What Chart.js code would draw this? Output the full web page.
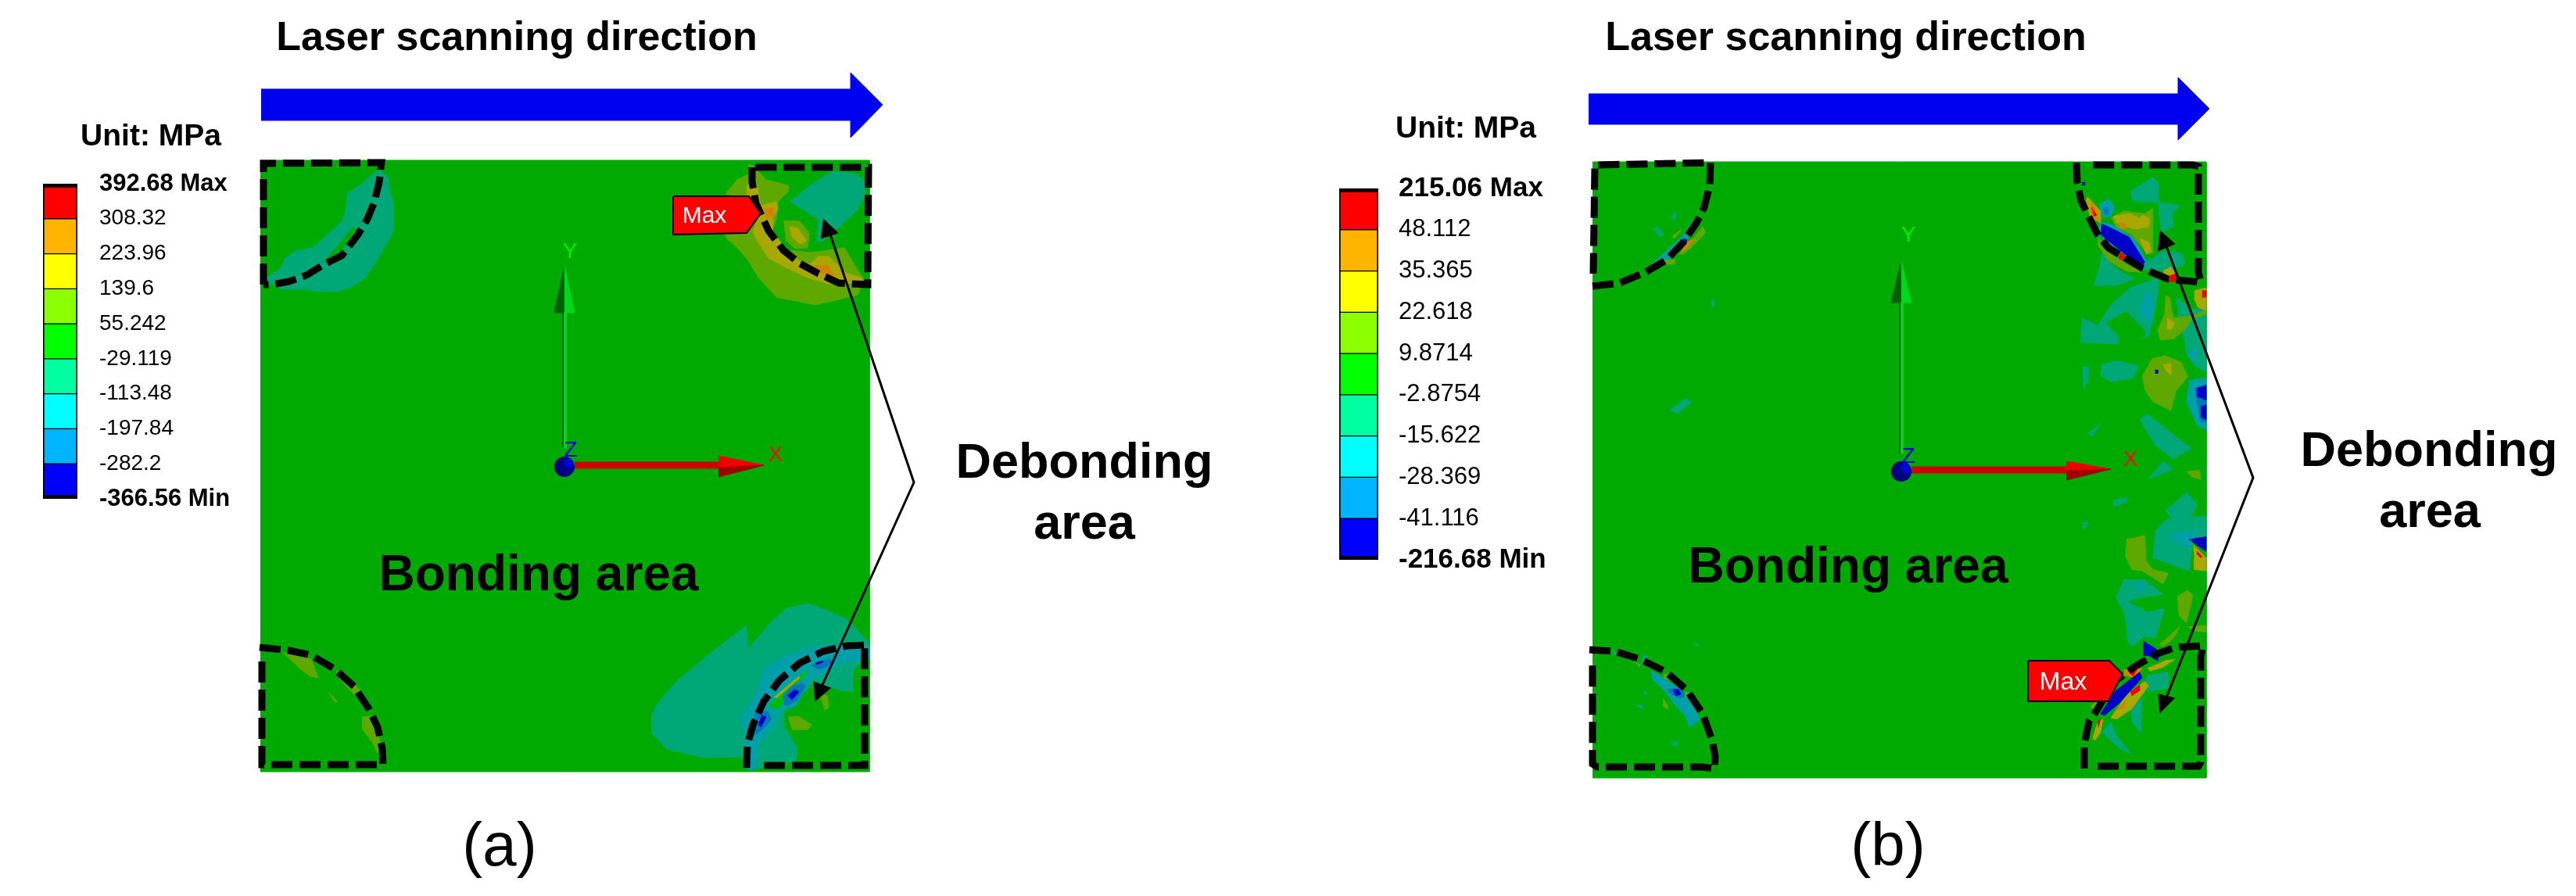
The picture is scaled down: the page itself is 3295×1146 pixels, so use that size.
<!DOCTYPE html>
<html>
<head>
<meta charset="utf-8">
<title>Debonding stress maps</title>
<script src="https://cdn.jsdelivr.net/npm/chart.js@4/dist/chart.umd.min.js"></script>
<style>
  html, body { margin: 0; padding: 0; background: #fff; }
  canvas { position: absolute; display: block; }
</style>
</head>
<body>
<canvas id="map" width="3295" height="1146" style="left:0;top:0"></canvas>
<canvas id="barA" width="249" height="443" style="left:50px;top:215px"></canvas>
<canvas id="barB" width="270" height="515" style="left:1708px;top:221px"></canvas>
<script>
// legend values, top to bottom
const labelsA = ['392.68 Max','308.32','223.96','139.6','55.242','-29.119','-113.48','-197.84','-282.2','-366.56 Min'];
const labelsB = ['215.06 Max','48.112','35.365','22.618','9.8714','-2.8754','-15.622','-28.369','-41.116','-216.68 Min'];
const bandColors = ['#ff0000','#ffb400','#ffff00','#8cff00','#00ff00','#00ffa0','#00ffff','#00b4ff','#0000ff'];

const plateA = [333,205, 1112,205, 1112,987, 333,987];
const plateB = [2037,207, 2822,207, 2822,995, 2037,995];
const scanArrowA = [334,114, 1088,114, 1088,93, 1129,134, 1088,176, 1088,154, 334,154];
const scanArrowB = [2032,120, 2786,120, 2786,99, 2826,139, 2786,179, 2786,159, 2032,159];

// contour zones panel (a)
const tealA = [
  [477,222,487,218,497,228,498,245,503,258,503,295,495,310,483,332,467,355,450,367,430,373,405,373,395,370,360,370,337,358,360,342,365,330,378,321,400,317,417,302,437,283,442,272,445,247,460,237],
  [1010,258,1037,237,1065,219,1093,222,1105,230,1107,247,1097,268,1077,287,1067,295,1050,310,1045,307,1047,280,1037,275],
  [833,915,843,897,867,870,913,832,955,800,957,830,987,795,1007,778,1033,772,1063,783,1083,792,1110,820,1112,835,1090,860,1090,885,1072,882,1042,872,1003,910,1002,928,1020,957,1018,973,960,985,948,968,900,969,853,958,833,937]
];
const slitA = [[417,332,452,290,458,295,435,322]];
const cyanA = [[947,920,967,887,980,853,1013,835,1040,827,1077,825,1112,828,1112,843,1077,848,1057,860,1040,867,1033,877,1017,903,997,910,987,933,970,953,967,983,957,985,952,950,953,937]];
const midBlueA = [
  [1037,852,1060,842,1067,847,1050,857],
  [1002,890,1013,878,1027,873,1030,878,1020,895,1008,903,1002,900],
  [967,910,982,910,987,920,975,933,965,940,958,937]
];
const navyA = [
  [1043,848,1052,845,1052,847,1045,850],
  [1007,890,1017,882,1022,885,1013,895],
  [970,927,975,915,980,917,973,930]
];
const brightA = [[983,902,1030,858,1032,862,1003,887,1000,903,990,907]];
const oliveA = [
  [958,210,967,215,980,230,1008,237,1008,245,995,258,993,280,987,297,1007,320,1037,323,1060,320,1080,317,1100,350,1105,357,1097,377,1073,383,1043,390,993,380,970,355,957,333,943,317,928,303,933,290,953,253,928,248,943,230,957,223],
  [1002,282,1023,283,1035,298,1033,317,1017,318,1005,307],
  [362,835,380,838,398,843,407,867,397,865,383,855],
  [420,885,432,898,427,897],
  [463,917,480,915,487,955,483,963,477,950,463,932],
  [430,858,438,860,460,882,462,890,453,888,433,867],
  [1048,887,1058,890,1060,905,1055,908],
  [1008,917,1022,917,1038,927,1033,933,1013,933]
];
const yellowA = [
  [955,237,968,235,973,263,993,258,995,268,988,278,988,295,1007,322,1027,337,1037,337,1047,328,1060,328,1083,350,1102,355,1103,362,1060,363,1033,355,1007,343,983,330,970,310,963,297,970,277,962,267,955,247],
  [1010,290,1020,292,1032,308,1023,312,1012,302],
  [990,892,1022,865,1023,867,993,893]
];
const orangeA = [
  [977,267,990,266,988,277,980,280],
  [1042,340,1058,339,1067,352,1050,350],
  [1012,325,1018,330,1013,332]
];

// contour zones panel (b), first the small ones near the left corners
const tealB = [
  [2137,277,2145,270,2142,282],
  [2115,293,2120,290,2128,302,2123,303],
  [2189,383,2192,383,2192,392,2189,392],
  [2102,838,2108,840,2105,852,2098,850],
  [2063,830,2070,838,2063,838],
  [2103,882,2108,888,2103,890],
  [2092,902,2102,902,2101,907],
  [2138,950,2145,948,2145,953,2138,953],
  [2167,823,2172,823,2170,827],
  [2135,525,2156,510,2164,514,2146,529]
];
const cyanB = [
  [2112,338,2125,327,2152,302,2165,282,2168,283,2158,305,2135,332,2132,333],
  [2112,858,2125,865,2142,877,2162,897,2175,920,2160,930,2157,917,2140,898,2128,882,2113,868]
];
const midBlueB = [[2132,882,2148,880,2158,890,2150,893,2138,888]];
const navyB = [
  [2153,305,2158,307,2157,310,2152,308],
  [2140,882,2147,882,2150,888,2143,890]
];
const oliveB = [
  [2128,333,2142,332,2142,338,2132,338],
  [2158,315,2178,290,2181,298,2168,312,2153,325,2147,325],
  [2138,303,2152,292,2142,305],
  [2128,862,2137,863,2133,869,2128,868],
  [2155,885,2165,888,2160,893,2155,892],
  [2090,846,2098,850,2097,853],
  [2127,893,2133,902,2133,907,2127,903]
];
const orangeB = [[2157,310,2167,305,2158,317,2150,323]];

const cropTop = [2540,190];
const cropLow = [2540,590];
const stripTealTop = [
  [555,165,640,110,660,130,660,205,600,205,560,195],
  [660,205,745,220,715,250,720,300,675,320,665,250],
  [445,400,480,440,520,475,570,500,500,525,415,525,430,480],
  [610,440,680,395,750,400,765,440,700,470,640,465,600,465],
  [630,505,660,500,660,560,640,660,625,720,510,750,365,745,370,650,430,680,480,600,560,530],
  [730,570,800,620,845,610,845,860,800,830,770,790,765,740,745,680],
  [370,835,395,840,395,880,375,930],
  [445,830,500,815,585,835,565,880,480,895,440,870],
  [590,1040,620,1020,760,1130,790,1150,720,1190,650,1140],
  [390,1095,440,1055,410,1105]
];
const stripHoleTop = [[460,670,540,625,610,700,610,720,560,740,510,750,510,720]];
const stripCyanTop = [
  [620,540,645,600,630,670,590,620],
  [780,790,805,760,805,830],
  [625,835,655,815,685,860,660,890],
  [780,890,845,880,845,1080,810,1060,770,970],
  [435,215,470,195,495,225,480,260,450,265],
  [440,285,480,290,570,345,615,430,600,460,430,330]
];
const stripBlueTop = [
  [640,840,660,835,670,865,650,870],
  [800,920,845,905,845,1050,825,1045,810,970],
  [450,230,470,225,470,255,455,250]
];
const stripNavyTop = [
  [650,850,660,850,660,862,650,862],
  [810,920,845,910,845,965,810,950],
  [825,990,845,985,845,1040,825,1030],
  [445,290,470,300,550,340,610,435,600,450,535,405,440,330],
  [370,130,380,130,380,140,370,140]
];
const stripOliveTop = [
  [690,565,705,570,720,650,790,655,765,695,720,730,670,735,660,695,685,640],
  [730,650,800,640,845,620,845,635,790,655],
  [600,875,640,805,690,795,750,820,775,875,730,930,710,1005,640,970,610,925],
  [480,265,530,240,610,250,640,230,640,360,640,400,620,405,560,330,500,300],
  [430,340,480,405,550,450,600,475,540,470,470,430,430,370]
];
const stripYellowTop = [
  [695,650,725,670,710,695,695,690],
  [800,545,845,535,845,620,815,610,800,575],
  [680,830,710,825,712,870,690,850],
  [490,260,555,250,590,270,600,255,630,270,625,300,570,310,500,285],
  [590,345,625,360,635,395,615,405],
  [390,185,440,240,440,285,400,260,385,195],
  [680,470,710,455,740,490,735,510,690,500]
];
const stripOrangeTop = [[510,285,540,285,535,305,515,305],[405,205,425,235,435,280,420,265,400,240]];
const stripRedTop = [
  [830,545,845,545,845,570,830,570],
  [405,225,425,255,415,260],
  [515,400,530,405,530,430,510,420],
  [705,490,730,480,730,510,705,510]
];

const stripTealLow = [
  [625,70,680,0,720,30],
  [490,150,545,140,540,155,490,175],
  [370,235,395,235,375,265],
  [690,190,770,120,810,165,790,210,720,230],
  [650,270,690,225,845,210,845,290,795,300,780,420,640,370],
  [500,525,530,455,610,455,680,510,580,525,545,540,620,580,685,565,650,680,610,670,560,710,545,690,535,590],
  [445,1040,480,1000,500,1050,555,1120,510,1100],
  [620,820,700,810,700,870,640,880,600,880],
  [555,950,600,905,595,1040,560,1000]
];
const stripCyanLow = [
  [695,285,775,270,830,260,780,300,785,340],
  [575,475,605,470,605,495,580,490]
];
const stripNavyLow = [
  [780,300,845,290,845,345,800,315],
  [605,690,660,725,660,765,625,745,605,745],
  [440,970,500,880,590,810,600,830,510,930,455,975]
];
const stripOliveLow = [
  [540,300,610,285,615,380,640,415,700,430,680,470,600,420,560,415,535,360],
  [735,520,775,495,795,515,770,620,740,590],
  [665,705,745,635,720,680,680,710],
  [775,635,845,630,845,655,800,650],
  [770,40,820,35,825,70,790,60],
  [400,940,430,920,420,960]
];
const stripYellowLow = [
  [795,320,845,370,845,420,800,415,800,370],
  [620,795,690,765,725,760,680,790,630,805],
  [480,985,545,890,610,845,625,860,560,950,500,990],
  [410,1065,430,1000,450,990,440,1040,420,1070]
];
const stripOrangeLow = [[500,960,535,920,530,945],[530,800,600,795,570,830,530,820]];
const stripRedLow = [
  [810,345,830,365,825,370,810,355],
  [555,885,590,860,590,880,560,900],
  [428,1000,440,990,432,1020],
  [545,805,580,800,565,825]
];

// dashed debonding outlines
const outlinesA = [
  [337,364,337,209,488,208,485,233,479,258,470,280,458,300,437,327,415,338,392,352,370,360,348,364,337,364],
  [332,828,370,832,398,838,427,855,453,878,472,907,483,930,489,957,490,978,340,978,335,978,335,838],
  [962,214,962,232,967,260,983,295,1002,320,1023,337,1047,350,1073,362,1110,364,1111,214,962,214],
  [955,982,956,953,963,927,977,897,997,870,1023,848,1053,833,1083,826,1108,825,1106,825,1106,979,968,979]
];
const outlinesB = [
  [2037,366,2072,362,2105,348,2132,332,2153,310,2170,285,2180,265,2187,237,2188,208,2040,211,2038,350],
  [2033,831,2065,833,2098,843,2132,860,2158,883,2178,913,2190,947,2194,967,2193,983,2178,981,2043,981,2037,977,2037,843],
  [2656,208,2657,233,2662,257,2683,300,2697,317,2740,343,2773,357,2815,361,2812,348,2812,213,2805,211,2670,211],
  [2666,983,2666,953,2672,923,2683,907,2703,873,2730,853,2757,837,2783,828,2818,826,2815,840,2815,975,2812,980,2677,980]
];

// leaders to the debonding label, and their heads
const leaderA = [1062,300, 1169,617, 1052,876];
const leaderB = [2771,315, 2882,611, 2772,890];
const headsA = [[1053,280,1072,298,1050,305],[1043,897,1041,872,1063,880]];
const headsB = [[2763,295,2782,312,2760,321],[2763,912,2761,888,2782,893]];

// Max flags
const flagA = [861,251,958,251,973,273,955,298,861,300];
const flagB = [2594,845,2698,845,2715,862,2697,897,2594,897];

// coordinate triads
const triadA = {
  yDark: [719,400,720,400,720,573,719,573], yLine: [721,400,724,400,724,573,721,573],
  yHeadD: [722,340,709,400,722,400], yHeadL: [722,340,735,400,722,400],
  xLine: [735,591,920,591,920,599,735,599],
  xHeadT: [919,583,977,595,919,598], xHeadB: [919,598,977,595,919,610],
  origin: [722,597], glint: [727,593]
};
const triadB = {
  yDark: [2429,387,2430,387,2430,580,2429,580], yLine: [2431,387,2434,387,2434,580,2431,580],
  yHeadD: [2432,334,2419,387,2432,387], yHeadL: [2432,334,2445,387,2432,387],
  xLine: [2445,597,2644,597,2644,605,2445,605],
  xHeadT: [2643,590,2700,600,2643,602], xHeadB: [2643,602,2700,600,2643,614],
  origin: [2432,603], glint: [2437,599]
};

// annotation text
const bigText = [
  ['Laser scanning direction',661,50,52],
  ['Laser scanning direction',2361,50,52],
  ['Bonding area',689,737,64],
  ['Bonding area',2364,727,64],
  ['Debonding',1387,594,63],
  ['area',1387,672,63],
  ['Debonding',3107,579,63],
  ['area',3108,657,63],
  ['Unit: MPa',193,175,39],
  ['Unit: MPa',1875,165,39]
];
const panelText = [['(a)',639,1085,78],['(b)',2415,1085,78]];
const flagText = [['Max',901,277,30],['Max',2639,873,32]];
const axisText = [
  ['Y',729,322,'#00f000'],['X',992,582,'#f01000'],['Z',730,576,'#0000e0'],
  ['Y',2441,301,'#00f000'],['X',2725,588,'#f01000'],['Z',2441,584,'#0000e0']
];

const pts = flat => {
  const out = [];
  for (let i = 0; i < flat.length; i += 2) out.push({x: flat[i], y: flat[i + 1]});
  return out;
};
const fromCrop = (origin, flat) => flat.map((v, i) => origin[i % 2] + v / 3);

const datasets = [];
// chart.js paints lower order last, so each new dataset gets a lower one
const add = ds => { ds.order = -datasets.length; datasets.push(ds); };
const area = (color, polys) => polys.forEach(p => add({
  data: pts(p), showLine: true, fill: 'shape', backgroundColor: color, borderColor: color,
  borderWidth: 1, pointRadius: 0, tension: 0
}));
const path = (flat, color, width, dash) => add({
  data: pts(flat), showLine: true, fill: false, borderColor: color, borderWidth: width,
  borderDash: dash || [], pointRadius: 0, tension: 0
});
const dot = (p, color, r) => add({
  data: pts(p), showLine: false, pointRadius: r, pointBackgroundColor: color, pointBorderWidth: 0
});

const FIELD = '#00aa00', TEAL = '#00a878', CYAN = '#00a0a8', BLUE = '#0078b8', NAVY = '#0000c8',
      OLIVE = '#5fa800', YELLOW = '#a8a800', ORANGE = '#d28200', RED = '#f00000';

area(FIELD, [plateA, plateB]);

area(OLIVE, oliveA);
area(YELLOW, yellowA);
area(ORANGE, orangeA);
area(TEAL, tealA);
area(FIELD, slitA);
area(CYAN, cyanA);
area('#00bb00', brightA);
area(YELLOW, [yellowA[2]]);
area(BLUE, midBlueA);
area(NAVY, navyA);
area(OLIVE, [oliveA[6], oliveA[7]]);

area(TEAL, tealB);
area(CYAN, cyanB);
area(BLUE, midBlueB);
area(OLIVE, oliveB);
area(ORANGE, orangeB);
area(NAVY, navyB);

const upper = polys => polys.map(p => fromCrop(cropTop, p));
const lower = polys => polys.map(p => fromCrop(cropLow, p));
area(TEAL, upper(stripTealTop));
area(FIELD, upper(stripHoleTop));
area(TEAL, lower(stripTealLow));
area(CYAN, upper(stripCyanTop));
area(CYAN, lower(stripCyanLow));
area(BLUE, upper(stripBlueTop));
area(OLIVE, upper(stripOliveTop));
area(OLIVE, lower(stripOliveLow));
area(YELLOW, upper(stripYellowTop));
area(YELLOW, lower(stripYellowLow));
area(ORANGE, upper(stripOrangeTop));
area(ORANGE, lower(stripOrangeLow));
area(NAVY, upper(stripNavyTop));
area(NAVY, lower(stripNavyLow));
area(RED, upper(stripRedTop));
area(RED, lower(stripRedLow));

outlinesA.concat(outlinesB).forEach(o => path(o, '#000', 9, [27, 9]));

[triadA, triadB].forEach(t => {
  area('#006000', [t.yDark, t.yHeadD]);
  area('#00d820', [t.yLine, t.yHeadL]);
  area('#d20000', [t.xLine]);
  area('#f00000', [t.xHeadT]);
  area('#a00000', [t.xHeadB]);
  dot(t.origin, '#000080', 13);
  dot(t.glint, '#0000e0', 6);
});

area('#0000f0', [scanArrowA, scanArrowB]);

[flagA, flagB].forEach(f => {
  area('#ff0000', [f]);
  path(f.concat(f.slice(0, 2)), '#000', 2);
});

path(leaderA, '#000', 3);
path(leaderB, '#000', 3);
area('#000', headsA.concat(headsB));

const notesPlugin = {
  id: 'notes',
  afterDatasetsDraw(chart) {
    const {ctx, scales: {x, y}} = chart;
    ctx.save();
    ctx.textBaseline = 'middle';
    ctx.textAlign = 'center';
    ctx.fillStyle = '#000';
    bigText.forEach(([t, tx, ty, size]) => {
      ctx.font = `bold ${size}px "Liberation Sans"`;
      ctx.fillText(t, x.getPixelForValue(tx), y.getPixelForValue(ty));
    });
    panelText.forEach(([t, tx, ty, size]) => {
      ctx.font = `${size}px "Liberation Sans"`;
      ctx.fillText(t, x.getPixelForValue(tx), y.getPixelForValue(ty));
    });
    ctx.fillStyle = '#fff';
    flagText.forEach(([t, tx, ty, size]) => {
      ctx.font = `${size}px "Liberation Sans"`;
      ctx.fillText(t, x.getPixelForValue(tx), y.getPixelForValue(ty));
    });
    axisText.forEach(([t, tx, ty, color]) => {
      ctx.fillStyle = color;
      ctx.font = '28px "Liberation Sans"';
      ctx.fillText(t, x.getPixelForValue(tx), y.getPixelForValue(ty));
    });
    ctx.restore();
  }
};

new Chart(document.getElementById('map'), {
  type: 'scatter',
  data: {datasets},
  options: {
    responsive: false,
    animation: false,
    layout: {padding: 0, autoPadding: false},
    plugins: {legend: {display: false}, tooltip: {enabled: false}},
    scales: {
      x: {type: 'linear', min: 0, max: 3295, display: false},
      y: {type: 'linear', min: 0, max: 1146, reverse: true, display: false}
    }
  },
  plugins: [notesPlugin]
});

function colorBar(id, labels, axisWidth, normalSize, boldSize, gap) {
  new Chart(document.getElementById(id), {
    type: 'bar',
    data: {
      labels: ['MPa'],
      datasets: bandColors.map((c, i) => ({
        data: [1], backgroundColor: c, borderColor: '#000', borderSkipped: false,
        // the colour bar has a heavier cap and foot
        borderWidth: {left: 2, right: 2, top: i === 0 ? 5 : 1, bottom: i === bandColors.length - 1 ? 5 : 1},
        barPercentage: 1, categoryPercentage: 1
      }))
    },
    options: {
      responsive: false,
      animation: false,
      layout: {padding: {left: 5, top: 20, bottom: 20}},
      plugins: {legend: {display: false}, tooltip: {enabled: false}},
      scales: {
        x: {stacked: true, display: false},
        y: {
          stacked: true, reverse: true, position: 'right', min: 0, max: 9,
          border: {display: false},
          grid: {display: false, drawTicks: false},
          afterFit(scale) {
            scale.width = axisWidth;
            scale.paddingTop = 0;
            scale.paddingBottom = 0;
          },
          ticks: {
            stepSize: 1,
            autoSkip: false,
            padding: gap,
            color: '#000',
            callback: v => labels[v],
            font: c => {
              const edge = c.index === 0 || c.index === labels.length - 1;
              return {family: '"Liberation Sans"', size: edge ? boldSize : normalSize, weight: edge ? 'bold' : 'normal'};
            }
          }
        }
      }
    }
  });
}

colorBar('barA', labelsA, 200, 28, 31, 28);
colorBar('barB', labelsB, 215, 31, 35, 26);
</script>
</body>
</html>
